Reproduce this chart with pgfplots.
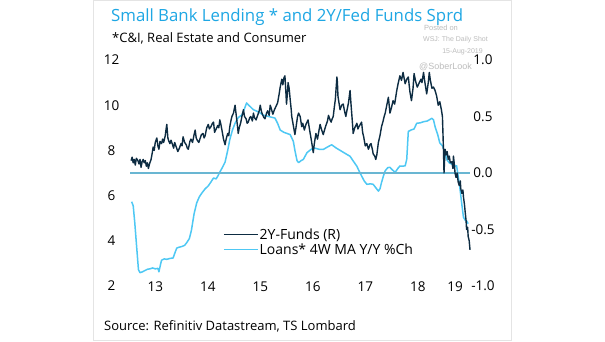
\documentclass[border=0pt]{standalone}
\usepackage{fontspec}
\setmainfont{Open Sans}
\newfontfamily\wmfont{Liberation Sans}
\usepackage{pgfplots}
\pgfplotsset{compat=1.18}
\definecolor{titlecyan}{HTML}{1EA7E4}
\definecolor{loanblue}{HTML}{4EC8F4}
\definecolor{darknavy}{HTML}{0D2C42}
\definecolor{zeroline}{HTML}{69B6D2}
\definecolor{framegray}{HTML}{E4E4E4}
\definecolor{wmgray}{HTML}{BDBDBD}

\pgfplotstableread{
year val
2013.05 5.73
2013.08 5.55
2013.11 4.80
2013.14 3.90
2013.18 2.72
2013.21 2.59
2013.25 2.62
2013.30 2.68
2013.35 2.74
2013.40 2.76
2013.45 2.80
2013.50 2.76
2013.55 2.78
2013.57 2.63
2013.60 2.95
2013.62 3.14
2013.67 3.20
2013.72 3.18
2013.78 3.22
2013.84 3.24
2013.88 3.50
2013.91 3.68
2013.96 3.72
2014.01 3.75
2014.06 3.80
2014.10 3.92
2014.15 4.10
2014.19 4.48
2014.24 5.20
2014.29 5.68
2014.34 5.95
2014.39 6.12
2014.45 6.30
2014.51 6.43
2014.56 6.60
2014.61 6.78
2014.66 6.74
2014.70 6.90
2014.73 7.04
2014.78 7.25
2014.83 7.48
2014.88 8.00
2014.92 8.48
2014.97 8.90
2015.02 9.20
2015.08 9.45
2015.15 9.57
2015.20 9.85
2015.24 10.10
2015.28 10.00
2015.37 9.80
2015.47 9.70
2015.56 9.56
2015.66 9.50
2015.78 9.43
2015.83 9.20
2015.88 8.90
2015.95 8.80
2016.07 8.70
2016.13 8.40
2016.16 8.00
2016.20 7.55
2016.23 7.46
2016.28 7.55
2016.32 7.60
2016.39 7.90
2016.47 8.05
2016.54 8.10
2016.62 8.05
2016.70 8.04
2016.78 8.15
2016.86 8.25
2016.95 8.10
2017.05 7.96
2017.13 7.85
2017.21 7.74
2017.28 7.50
2017.34 7.30
2017.39 7.05
2017.43 6.87
2017.48 6.65
2017.53 6.50
2017.60 6.52
2017.65 6.50
2017.70 6.35
2017.75 6.20
2017.78 6.30
2017.81 6.58
2017.85 6.90
2017.88 7.10
2017.93 7.24
2017.97 7.25
2018.02 7.13
2018.07 7.03
2018.12 7.20
2018.16 7.31
2018.21 7.30
2018.26 7.32
2018.29 7.60
2018.32 8.84
2018.37 8.90
2018.43 8.95
2018.48 9.20
2018.55 9.22
2018.61 9.27
2018.68 9.30
2018.77 9.42
2018.80 9.35
2018.83 9.05
2018.88 8.70
2018.92 8.33
2018.97 8.20
2019.02 7.90
2019.05 7.60
2019.10 7.45
2019.15 7.39
2019.20 7.30
2019.24 7.32
2019.28 6.70
2019.30 6.38
2019.34 5.60
2019.37 5.05
2019.40 4.92
2019.43 4.88
2019.46 4.76
}\loans

\pgfplotstableread{
year val
2013.04 0.11
2013.06 0.14
2013.08 0.09
2013.10 0.12
2013.12 0.07
2013.14 0.13
2013.17 0.11
2013.19 0.08
2013.21 0.12
2013.23 0.05
2013.25 0.10
2013.27 0.12
2013.29 0.09
2013.31 0.11
2013.33 0.06
2013.35 0.09
2013.37 0.04
2013.39 0.08
2013.42 0.12
2013.44 0.17
2013.46 0.23
2013.48 0.20
2013.50 0.27
2013.53 0.31
2013.55 0.24
2013.57 0.21
2013.59 0.28
2013.62 0.26
2013.64 0.30
2013.66 0.27
2013.69 0.33
2013.71 0.40
2013.72 0.43
2013.74 0.31
2013.76 0.28
2013.78 0.26
2013.80 0.29
2013.83 0.25
2013.85 0.22
2013.87 0.27
2013.90 0.23
2013.93 0.19
2013.96 0.22
2013.99 0.26
2014.01 0.24
2014.03 0.32
2014.06 0.27
2014.09 0.25
2014.11 0.22
2014.13 0.21
2014.16 0.28
2014.18 0.30
2014.21 0.27
2014.24 0.34
2014.26 0.38
2014.28 0.31
2014.30 0.29
2014.33 0.27
2014.35 0.30
2014.38 0.34
2014.41 0.35
2014.43 0.31
2014.45 0.33
2014.48 0.40
2014.51 0.43
2014.53 0.39
2014.56 0.41
2014.59 0.44
2014.61 0.45
2014.63 0.36
2014.66 0.39
2014.69 0.42
2014.71 0.40
2014.73 0.47
2014.75 0.43
2014.77 0.38
2014.80 0.30
2014.83 0.25
2014.85 0.30
2014.88 0.35
2014.90 0.33
2014.92 0.41
2014.94 0.46
2014.96 0.50
2014.99 0.53
2015.02 0.60
2015.04 0.52
2015.07 0.40
2015.08 0.35
2015.10 0.40
2015.13 0.45
2015.15 0.50
2015.18 0.56
2015.20 0.50
2015.23 0.48
2015.25 0.44
2015.27 0.45
2015.30 0.49
2015.32 0.50
2015.35 0.46
2015.37 0.53
2015.39 0.49
2015.42 0.47
2015.45 0.51
2015.48 0.55
2015.50 0.60
2015.52 0.55
2015.54 0.52
2015.57 0.49
2015.59 0.48
2015.62 0.53
2015.64 0.55
2015.67 0.51
2015.69 0.60
2015.71 0.57
2015.74 0.52
2015.77 0.56
2015.80 0.59
2015.83 0.62
2015.86 0.70
2015.88 0.76
2015.91 0.83
2015.93 0.78
2015.95 0.84
2015.97 0.86
2015.99 0.70
2016.00 0.61
2016.02 0.72
2016.03 0.80
2016.05 0.75
2016.07 0.65
2016.09 0.56
2016.10 0.50
2016.13 0.42
2016.16 0.34
2016.18 0.40
2016.21 0.50
2016.23 0.53
2016.26 0.50
2016.29 0.41
2016.31 0.44
2016.34 0.38
2016.37 0.43
2016.41 0.47
2016.44 0.38
2016.47 0.30
2016.49 0.24
2016.51 0.18
2016.53 0.26
2016.56 0.35
2016.59 0.30
2016.62 0.38
2016.64 0.43
2016.67 0.38
2016.70 0.34
2016.73 0.39
2016.75 0.42
2016.78 0.46
2016.80 0.51
2016.83 0.47
2016.85 0.45
2016.87 0.48
2016.89 0.50
2016.91 0.58
2016.93 0.65
2016.96 0.85
2016.97 0.80
2016.98 0.68
2017.00 0.62
2017.02 0.56
2017.05 0.60
2017.08 0.61
2017.10 0.56
2017.13 0.50
2017.15 0.55
2017.18 0.62
2017.21 0.73
2017.23 0.60
2017.25 0.48
2017.27 0.35
2017.30 0.40
2017.34 0.44
2017.36 0.39
2017.38 0.41
2017.43 0.45
2017.45 0.36
2017.47 0.32
2017.50 0.24
2017.53 0.26
2017.56 0.21
2017.59 0.25
2017.61 0.26
2017.64 0.20
2017.65 0.17
2017.68 0.15
2017.70 0.12
2017.72 0.16
2017.75 0.27
2017.78 0.33
2017.81 0.41
2017.84 0.46
2017.86 0.50
2017.88 0.53
2017.91 0.60
2017.94 0.67
2017.96 0.58
2017.97 0.53
2018.00 0.58
2018.03 0.64
2018.06 0.61
2018.10 0.73
2018.13 0.80
2018.16 0.86
2018.19 0.82
2018.22 0.89
2018.24 0.84
2018.26 0.79
2018.29 0.83
2018.32 0.85
2018.35 0.72
2018.38 0.64
2018.41 0.75
2018.43 0.88
2018.46 0.81
2018.49 0.76
2018.52 0.79
2018.56 0.83
2018.58 0.80
2018.61 0.89
2018.63 0.82
2018.65 0.76
2018.67 0.70
2018.70 0.80
2018.72 0.89
2018.74 0.82
2018.77 0.75
2018.80 0.76
2018.83 0.73
2018.86 0.68
2018.89 0.60
2018.92 0.63
2018.95 0.56
2018.97 0.50
2018.99 0.20
2019.00 0.00
2019.02 0.21
2019.04 0.16
2019.06 0.19
2019.08 0.12
2019.10 0.15
2019.12 0.09
2019.15 0.10
2019.17 0.04
2019.18 0.15
2019.20 0.06
2019.21 0.00
2019.23 -0.04
2019.25 0.00
2019.27 -0.08
2019.29 -0.11
2019.31 -0.07
2019.32 -0.14
2019.34 -0.18
2019.36 -0.15
2019.37 -0.21
2019.39 -0.28
2019.40 -0.33
2019.42 -0.42
2019.43 -0.50
2019.45 -0.48
2019.46 -0.56
2019.48 -0.60
2019.495 -0.68
}\spread

\pgfplotstableread{
year val
2013.019 0
2019.495 0
}\zero

\begin{document}
\begin{tikzpicture}[x=1pt,y=1pt]
\fill[white] (0,0) rectangle (605,341);
\draw[framegray, line width=1pt] (93,0.5) rectangle (511,340.5);
\path[use as bounding box] (0,0) rectangle (605,341);

\node[anchor=base west, inner sep=0pt, text=titlecyan, font=\fontsize{16.8}{19}\selectfont] at (111,319.3) {Small Bank Lending * and 2Y/Fed Funds Sprd};
\node[anchor=base west, inner sep=0pt, font=\fontsize{13}{16}\selectfont] at (112,298.3) {*C\&I, Real Estate and Consumer};
\node[anchor=base west, inner sep=0pt, font=\fontsize{13}{16}\selectfont] at (104,11) {Source: Refinitiv Datastream, TS Lombard};

\node[anchor=center, inner sep=0pt, text=wmgray, font=\wmfont\fontsize{7.5}{9}\selectfont] at (441,313.5) {Posted on};
\node[anchor=center, inner sep=0pt, text=wmgray, font=\wmfont\fontsize{7}{9}\selectfont] at (455.5,301) {WSJ: The Daily Shot};
\node[anchor=center, inner sep=0pt, text=wmgray, font=\wmfont\fontsize{7}{9}\selectfont] at (462.5,289) {15-Aug-2019};
\node[anchor=center, inner sep=0pt, text=wmgray, font=\wmfont\fontsize{9}{11}\selectfont] at (445.5,274) {@SoberLook};

\begin{axis}[
  at={(130pt,55pt)}, anchor=south west,
  scale only axis, width=340pt, height=226pt,
  xmin=2013.019, xmax=2019.495, ymin=2, ymax=12,
  axis line style={draw=none}, major tick length=0pt,
  ytick={2,4,6,8,10,12}, yticklabels={2,4,6,8,10,12},
  yticklabel style={anchor=center, xshift=-18.5pt, font=\fontsize{13.5}{16}\selectfont},
  xtick={2013.5,2014.5,2015.5,2016.5,2017.5,2018.5,2019.21},
  xticklabels={13,14,15,16,17,18,19},
  xticklabel style={anchor=center, yshift=-1pt, font=\fontsize{13.5}{16}\selectfont},
  clip=false,
]
\addplot[loanblue, line width=1.5pt, line join=round] table[x=year,y=val]{\loans};
\end{axis}

\begin{axis}[
  at={(130pt,55pt)}, anchor=south west,
  scale only axis, width=340pt, height=226pt,
  xmin=2013.019, xmax=2019.495, ymin=-1, ymax=1,
  axis line style={draw=none}, major tick length=0pt,
  axis x line=none, axis y line*=right,
  ytick={-1,-0.5,0,0.5,1}, yticklabels={-1.0,-0.5,0.0,0.5,1.0},
  yticklabel style={anchor=center, xshift=13pt, font=\fontsize{13.5}{16}\selectfont},
  clip=false,
  legend style={at={(0.2735,0.26)}, anchor=north west, draw=none, fill=none,
    inner sep=0pt, row sep=1pt, font=\fontsize{14}{16}\selectfont,
    nodes={inner sep=1pt}},
  legend cell align=left,
  legend image code/.code={\draw[#1] (0pt,0pt) -- (34pt,0pt);},
]
\addplot[zeroline, line width=1.3pt, forget plot] table[x=year,y=val]{\zero};
\addplot[darknavy, line width=1.4pt, line join=round] table[x=year,y=val]{\spread};
\addlegendentry{2Y-Funds (R)}
\addlegendimage{color=loanblue, solid, line width=1.5pt}
\addlegendentry{Loans* 4W MA Y/Y \%Ch}
\end{axis}
\end{tikzpicture}
\end{document}
